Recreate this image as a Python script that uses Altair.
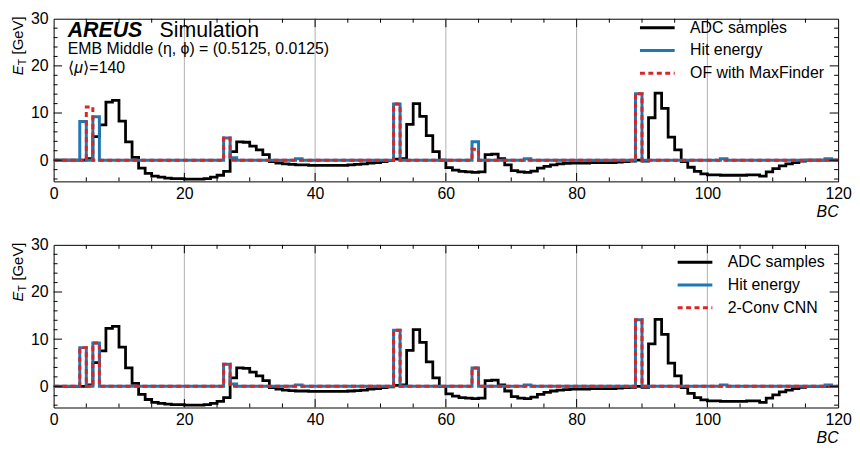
import altair as alt
import pandas as pd

# ---------------- data ----------------
BC = list(range(120))

ADC = [0.0, 0.0, 0.0, 0.0, 0.0, 0.3, 5.0, 7.5, 12.3, 12.7,
       8.3, 3.9, 0.6, -1.7, -2.8, -3.4, -3.6, -3.8, -3.9, -3.9,
       -4.0, -4.0, -4.0, -3.9, -3.6, -3.2, -2.4, 1.8, 3.9, 3.8,
       3.0, 2.2, 1.2, -0.3, -0.6, -0.8, -0.9, -1.0, -1.0, -1.1,
       -1.1, -1.1, -1.1, -1.1, -1.1, -1.0, -0.9, -0.8, -0.6, -0.5,
       -0.3, -0.1, 0.2, 0.3, 7.6, 12.0, 9.3, 5.2, 1.8, 0.0,
       -1.6, -2.1, -2.4, -2.5, -2.6, -2.5, 1.2, 1.3, 0.3, -1.0,
       -2.2, -2.5, -2.6, -2.3, -1.7, -1.3, -1.0, -0.8, -0.7, -0.6,
       -0.6, -0.6, -0.5, -0.5, -0.5, -0.5, -0.4, -0.3, -0.2, 0.0,
       -0.2, 9.0, 14.2, 11.0, 4.9, 2.2, -0.3, -1.5, -2.4, -2.9,
       -3.1, -3.1, -3.2, -3.2, -3.2, -3.2, -3.1, -3.1, -3.4, -2.5,
       -1.8, -1.2, -0.8, -0.5, -0.2, 0.0, 0.0, 0.0, 0.0, 0.0]

HIT = [0.0, 0.0, 0.0, 0.0, 8.2, 0.0, 9.2, 0.0, 0.0, 0.0,
       0.0, 0.0, 0.0, 0.0, 0.0, 0.0, 0.0, 0.0, 0.0, 0.0,
       0.0, 0.0, 0.0, 0.0, 0.0, 0.0, 4.7, 0.5, 0.0, 0.0,
       0.0, 0.0, 0.0, 0.0, 0.0, 0.0, 0.0, 0.3, 0.0, 0.0,
       0.0, 0.0, 0.0, 0.0, 0.0, 0.0, 0.0, 0.0, 0.0, 0.0,
       0.0, 0.0, 11.9, 0.0, 0.0, 0.0, 0.0, 0.0, 0.0, 0.0,
       0.0, 0.0, 0.0, 0.0, 3.9, 0.0, 0.0, 0.0, 0.0, 0.0,
       0.0, 0.0, 0.3, 0.0, 0.0, 0.0, 0.0, 0.0, 0.0, 0.0,
       0.0, 0.0, 0.0, 0.0, 0.0, 0.0, 0.0, 0.0, 0.0, 14.1,
       0.0, 0.0, 0.0, 0.0, 0.0, 0.0, 0.0, 0.0, 0.0, 0.0,
       0.0, 0.0, 0.3, 0.0, 0.0, 0.0, 0.0, 0.0, 0.0, 0.0,
       0.0, 0.0, 0.0, 0.0, 0.0, 0.0, 0.0, 0.0, 0.3, 0.0]

OF_MAXFINDER = [0.0, 0.0, 0.0, 0.0, 0.0, 11.3, 0.0, 0.0, 0.0, 0.0,
                0.0, 0.0, 0.0, 0.0, 0.0, 0.0, 0.0, 0.0, 0.0, 0.0,
                0.0, 0.0, 0.0, 0.0, 0.0, 0.0, 4.7, 0.0, 0.0, 0.0,
                0.0, 0.0, 0.0, 0.0, 0.0, 0.0, 0.0, 0.0, 0.0, 0.0,
                0.0, 0.0, 0.0, 0.0, 0.0, 0.0, 0.0, 0.0, 0.0, 0.0,
                0.0, 0.0, 11.9, 0.0, 0.0, 0.0, 0.0, 0.0, 0.0, 0.0,
                0.0, 0.0, 0.0, 0.0, 2.3, 0.0, 0.0, 0.0, 0.0, 0.0,
                0.0, 0.0, 0.0, 0.0, 0.0, 0.0, 0.0, 0.0, 0.0, 0.0,
                0.0, 0.0, 0.0, 0.0, 0.0, 0.0, 0.0, 0.0, 0.0, 14.1,
                0.0, 0.0, 0.0, 0.0, 0.0, 0.0, 0.0, 0.0, 0.0, 0.0,
                0.0, 0.0, 0.0, 0.0, 0.0, 0.0, 0.0, 0.0, 0.0, 0.0,
                0.0, 0.0, 0.0, 0.0, 0.0, 0.0, 0.0, 0.0, 0.0, 0.0]

CNN = [0.0, 0.0, 0.0, 0.0, 8.2, 0.0, 9.2, 0.0, 0.0, 0.0,
       0.0, 0.0, 0.0, 0.0, 0.0, 0.0, 0.0, 0.0, 0.0, 0.0,
       0.0, 0.0, 0.0, 0.0, 0.0, 0.0, 4.7, 0.0, 0.0, 0.0,
       0.0, 0.0, 0.0, 0.0, 0.0, 0.0, 0.0, 0.0, 0.0, 0.0,
       0.0, 0.0, 0.0, 0.0, 0.0, 0.0, 0.0, 0.0, 0.0, 0.0,
       0.0, 0.0, 11.9, 0.0, 0.0, 0.0, 0.0, 0.0, 0.0, 0.0,
       0.0, 0.0, 0.0, 0.0, 3.9, 0.0, 0.0, 0.0, 0.0, 0.0,
       0.0, 0.0, 0.0, 0.0, 0.0, 0.0, 0.0, 0.0, 0.0, 0.0,
       0.0, 0.0, 0.0, 0.0, 0.0, 0.0, 0.0, 0.0, 0.0, 14.1,
       0.0, 0.0, 0.0, 0.0, 0.0, 0.0, 0.0, 0.0, 0.0, 0.0,
       0.0, 0.0, 0.0, 0.0, 0.0, 0.0, 0.0, 0.0, 0.0, 0.0,
       0.0, 0.0, 0.0, 0.0, 0.0, 0.0, 0.0, 0.0, 0.0, 0.0]

SERIES_TOP = ["ADC samples", "Hit energy", "OF with MaxFinder"]
SERIES_BOTTOM = ["ADC samples", "Hit energy", "2-Conv CNN"]

X_LABELS = [0, 20, 40, 60, 80, 100, 120]
Y_LABELS = [0, 10, 20, 30]
X_GRID = [20, 40, 60, 80, 100]
X_MINOR = [5, 10, 15, 25, 30, 35, 45, 50, 55, 65, 70, 75, 85, 90, 95, 105, 110, 115]
Y_MAJOR = [0, 10, 20]
Y_MINOR = [-4, -2, 2, 4, 6, 8, 12, 14, 16, 18, 22, 24, 26, 28]

# ---------------- layout / style ----------------
W = 791
H = 164
FONT = "Liberation Sans"
COLORS = ["#000000", "#1f77b4", "#d62728"]
DASHES = [[1, 0], [1, 0], [5, 3.5]]
XS = alt.Scale(domain=[0, 120], nice=False, zero=False)
YS = alt.Scale(domain=[-4.5, 30], nice=False, zero=False)

XAXIS = alt.Axis(values=X_LABELS, title="BC", titleFontStyle="italic", titleFontSize=16,
                 titleFontWeight="normal", titleFont=FONT, titleColor="black",
                 titleAnchor="end", titlePadding=2, labelFontSize=16, labelFont=FONT,
                 labelColor="black", labelPadding=4, labelFlush=False, ticks=False,
                 tickSize=0, domain=False, grid=False)
YAXIS = alt.Axis(values=Y_LABELS, title=None, labelFontSize=16, labelFont=FONT,
                 labelColor="black", labelPadding=5.5, ticks=False, tickSize=0,
                 domain=False, grid=False)


def series_frame(name, vals):
    return pd.DataFrame({"BC": BC + [120], "ET": vals + [vals[-1]], "series": name})


def text_layer(txt, x, y, size, **kw):
    return alt.Chart(pd.DataFrame({"t": [txt]})).mark_text(
        align="left", baseline="alphabetic", fontSize=size, font=FONT, color="black", **kw
    ).encode(text="t:N", x=alt.value(x), y=alt.value(y))


def rules_x(vals, length, top):
    y0, y1 = (0, length) if top else (H - length, H)
    return alt.Chart(pd.DataFrame({"BC": vals})).mark_rule(color="black", strokeWidth=1).encode(
        x=alt.X("BC:Q", scale=XS, axis=XAXIS), y=alt.value(y0), y2=alt.value(y1))


def rules_y(vals, length, right):
    x0, x1 = (W - length, W) if right else (0, length)
    return alt.Chart(pd.DataFrame({"ET": vals})).mark_rule(color="black", strokeWidth=1).encode(
        y=alt.Y("ET:Q", scale=YS, axis=YAXIS), x=alt.value(x0), x2=alt.value(x1))


def panel(names, reco_vals, legend_x, legend_y, annotate):
    cscale = alt.Scale(domain=names, range=COLORS)
    dscale = alt.Scale(domain=names, range=DASHES)
    leg = alt.Legend(title=None, orient="none", legendX=legend_x, legendY=legend_y,
                     symbolType="stroke", symbolSize=1225, symbolStrokeWidth=3,
                     clipHeight=16, labelFontSize=16, labelFont=FONT, labelColor="black",
                     labelOffset=14, rowPadding=7, padding=0)

    def line(name, vals, width):
        return alt.Chart(series_frame(name, vals)).mark_line(
            interpolate="step-after", strokeWidth=width, clip=True
        ).encode(
            x=alt.X("BC:Q", scale=XS, axis=XAXIS),
            y=alt.Y("ET:Q", scale=YS, axis=YAXIS),
            color=alt.Color("series:N", scale=cscale, legend=leg),
            strokeDash=alt.StrokeDash("series:N", scale=dscale, legend=leg),
        )

    grid = alt.Chart(pd.DataFrame({"BC": X_GRID})).mark_rule(color="#b0b0b0", strokeWidth=1).encode(
        x=alt.X("BC:Q", scale=XS, axis=XAXIS))

    layers = [grid,
              line(names[0], ADC, 2.8),
              line(names[1], HIT, 3),
              line(names[2], reco_vals, 3),
              rules_x(X_GRID, 8.5, False), rules_x(X_MINOR, 4, False),
              rules_x(X_GRID, 8.5, True), rules_x(X_MINOR, 4, True),
              rules_y(Y_MAJOR, 8.5, False), rules_y(Y_MINOR, 4, False),
              rules_y(Y_MAJOR, 8.5, True), rules_y(Y_MINOR, 4, True),
              # y-axis title  E_T [GeV]
              text_layer("E", -31, 57, 15, angle=270, fontStyle="italic"),
              text_layer("T", -28, 47, 10.5, angle=270),
              text_layer("[GeV]", -31, 36, 15, angle=270)]
    if annotate:
        layers += [
            text_layer("AREUS", 14.2, 18, 21.5, fontStyle="italic", fontWeight="bold"),
            text_layer("Simulation", 106.8, 18, 21.5),
            text_layer("EMB Middle (η, ϕ) = (0.5125, 0.0125)", 14.2, 35.5, 16),
            text_layer("⟨", 14.2, 54.5, 16),
            text_layer("μ", 20.8, 54.5, 16, fontStyle="italic"),
            text_layer("⟩=140", 30, 54.5, 16),
        ]
    return alt.layer(*layers).properties(width=W, height=H)


top = panel(SERIES_TOP, OF_MAXFINDER, 589.7, 1, True)
bottom = panel(SERIES_BOTTOM, CNN, 627.7, 9.5, False)

chart = alt.vconcat(top, bottom, spacing=64, bounds="flush").resolve_scale(
    color="independent", strokeDash="independent"
).resolve_legend(
    color="independent", strokeDash="independent"
).properties(
    padding={"left": 2, "top": 0, "right": 0, "bottom": 0}
).configure(
    font=FONT, background="white"
).configure_view(stroke="black", strokeWidth=1)

chart.save("out.html", embed_options={"renderer": "svg", "actions": False})
